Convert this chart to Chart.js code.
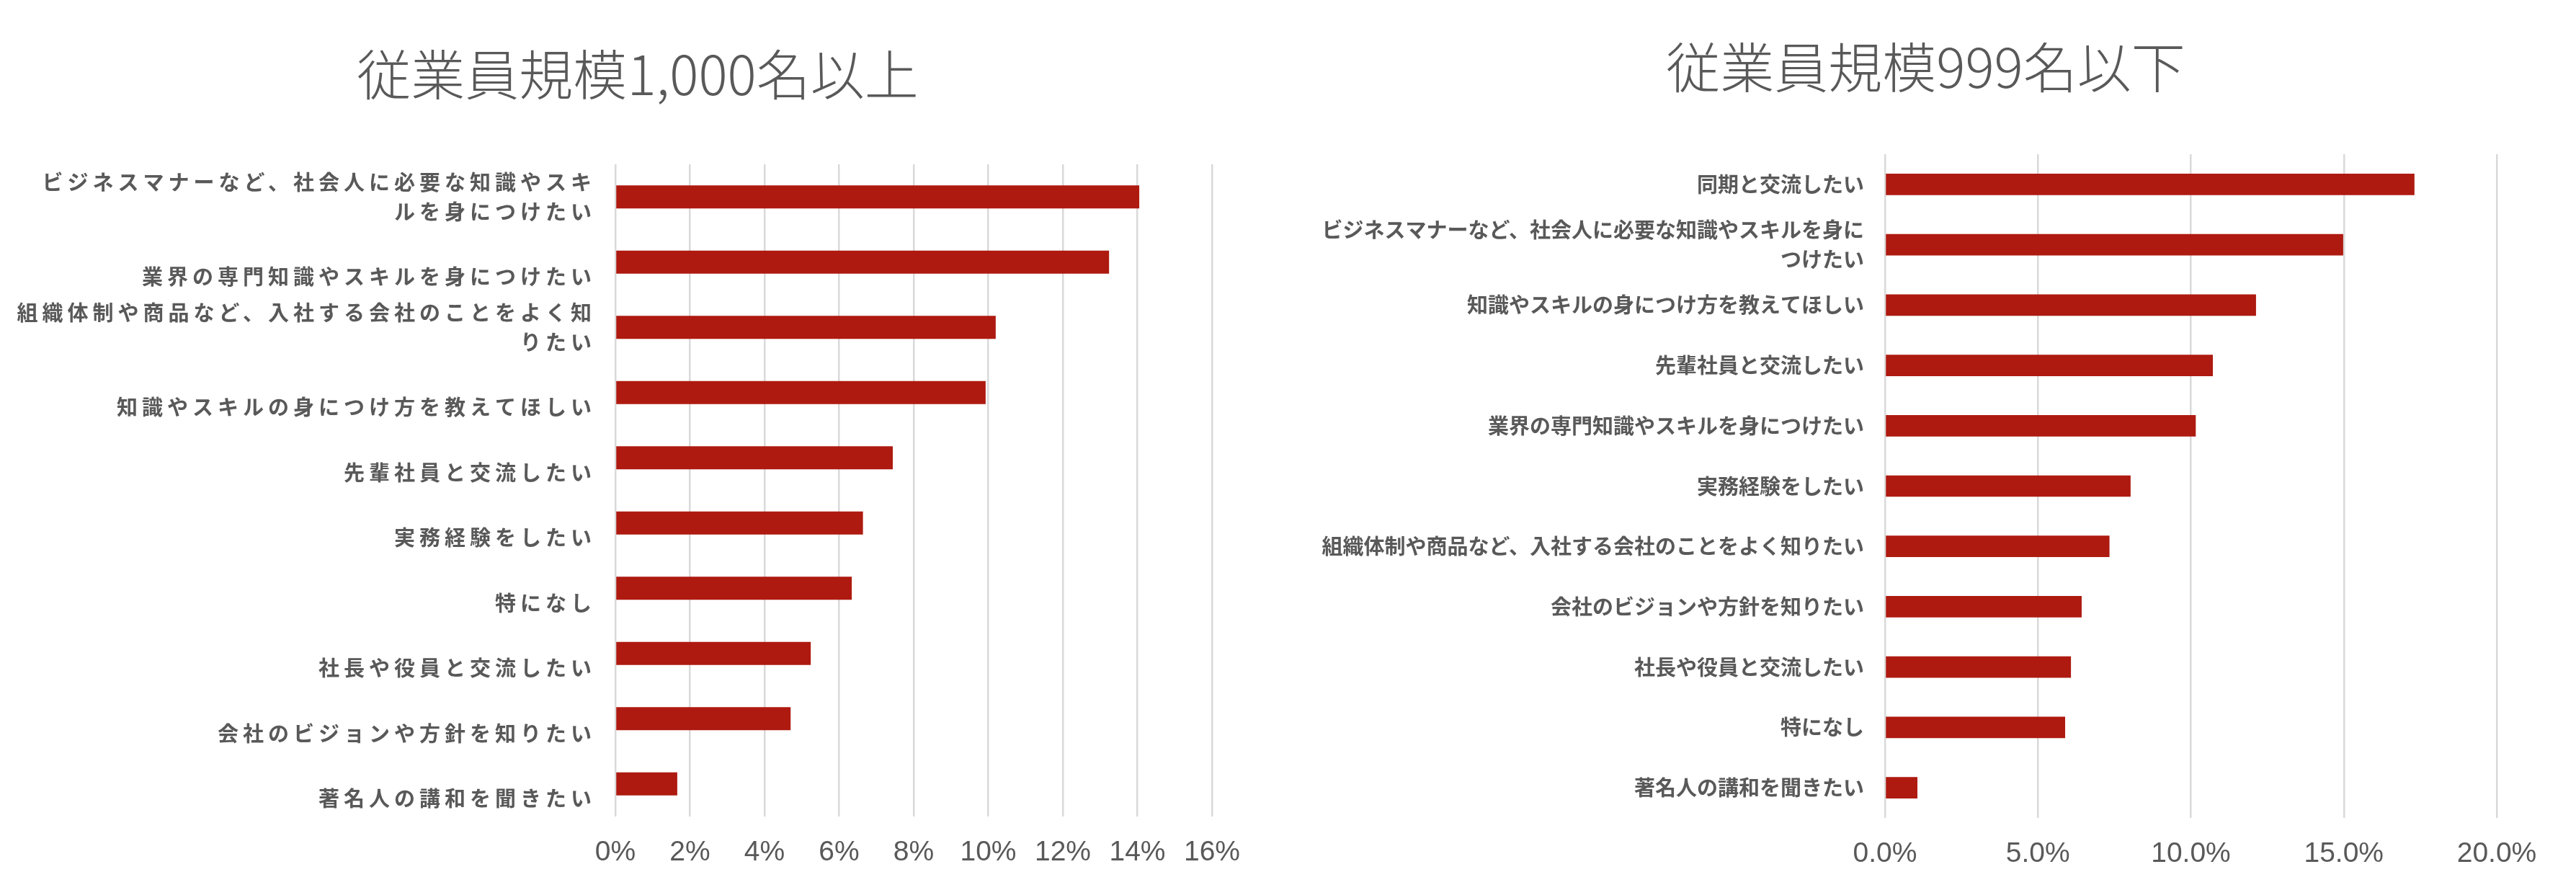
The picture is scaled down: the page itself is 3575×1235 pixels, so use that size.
<!DOCTYPE html>
<html lang="ja">
<head>
<meta charset="UTF-8">
<title>従業員規模別</title>
<script src="https://cdn.jsdelivr.net/npm/chart.js@4.4.0/dist/chart.umd.min.js"></script>
<style>
    html, body { margin: 0; padding: 0; background: #fff; }
    #wrap { position: relative; width: 3575px; height: 1235px; }
    #left { position: absolute; left: 0; top: 0; }
    #right { position: absolute; left: 1770px; top: 0; }
</style>
</head>
<body>
<div id="wrap">
    <canvas id="left" width="1770" height="1235"></canvas>
    <canvas id="right" width="1805" height="1235"></canvas>
</div>
<script>
// 従業員規模1,000名以上
const largeLabels = [
    ['ビジネスマナーなど、社会人に必要な知識やスキ', 'ルを身につけたい'],
    '業界の専門知識やスキルを身につけたい',
    ['組織体制や商品など、入社する会社のことをよく知', 'りたい'],
    '知識やスキルの身につけ方を教えてほしい',
    '先輩社員と交流したい',
    '実務経験をしたい',
    '特になし',
    '社長や役員と交流したい',
    '会社のビジョンや方針を知りたい',
    '著名人の講和を聞きたい'
];
const largeValues = [14.05, 13.24, 10.2, 9.93, 7.44, 6.64, 6.34, 5.24, 4.7, 1.66];
const largeTicks = [0, 2, 4, 6, 8, 10, 12, 14, 16];

// 従業員規模999名以下
const smallLabels = [
    '同期と交流したい',
    ['ビジネスマナーなど、社会人に必要な知識やスキルを身に', 'つけたい'],
    '知識やスキルの身につけ方を教えてほしい',
    '先輩社員と交流したい',
    '業界の専門知識やスキルを身につけたい',
    '実務経験をしたい',
    '組織体制や商品など、入社する会社のことをよく知りたい',
    '会社のビジョンや方針を知りたい',
    '社長や役員と交流したい',
    '特になし',
    '著名人の講和を聞きたい'
];
const smallValues = [17.31, 14.98, 12.13, 10.72, 10.16, 8.03, 7.34, 6.43, 6.08, 5.89, 1.06];
const smallTicks = [0, 5, 10, 15, 20];

const barColor = '#ae1a10';
const textColor = '#595959';
const gridColor = '#d9d9d9';
const jpFont = "'Noto Sans CJK JP', 'Noto Sans', sans-serif";
const numFont = "'Liberation Sans', Arial, sans-serif";

// left chart labels are letter-spaced
const spacingPlugin = {
    id: 'labelSpacing',
    afterDatasetsDraw(chart) { chart.ctx.letterSpacing = '6px'; },
    afterDraw(chart) { chart.ctx.letterSpacing = '0px'; }
};

// center the title over the whole canvas, not over the padded area
const titleCenter = {
    id: 'titleCenter',
    afterLayout(chart) {
        const t = chart.titleBlock;
        if (t) { t.left = 0; t.right = chart.width; t.width = chart.width; }
    }
};

function makeChart(id, cfg) {
    return new Chart(document.getElementById(id), {
        type: 'bar',
        data: {
            labels: cfg.labels,
            datasets: [{
                data: cfg.values,
                backgroundColor: barColor,
                barPercentage: 0.355,
                categoryPercentage: 1
            }]
        },
        plugins: [titleCenter].concat(cfg.plugins || []),
        options: {
            indexAxis: 'y',
            responsive: false,
            animation: false,
            layout: { padding: { left: 0, right: cfg.right, top: 0, bottom: 0 } },
            plugins: {
                legend: { display: false },
                tooltip: { enabled: false },
                title: {
                    display: true,
                    text: cfg.title,
                    color: textColor,
                    font: { family: jpFont, size: 75, weight: 300, lineHeight: 1.2 },
                    padding: cfg.titlePad
                }
            },
            scales: {
                x: {
                    min: 0,
                    max: cfg.ticks[cfg.ticks.length - 1],
                    afterBuildTicks: function (scale) {
                        scale.ticks = cfg.ticks.map(v => ({ value: v }));
                    },
                    afterFit: function (scale) { scale.height = cfg.xHeight; },
                    grid: { color: gridColor, lineWidth: 2.5, drawTicks: false },
                    border: { display: false },
                    ticks: {
                        padding: 27,
                        color: textColor,
                        font: { family: numFont, size: 39 },
                        callback: cfg.fmt
                    }
                },
                y: {
                    afterFit: function (scale) { scale.width = cfg.yWidth; },
                    grid: { display: false, drawTicks: false },
                    border: { display: false },
                    ticks: {
                        z: cfg.tickZ || 0,
                        padding: cfg.yPad,
                        color: textColor,
                        font: { family: jpFont, size: 29, weight: 'bold', lineHeight: 1.4 },
                        autoSkip: false,
                        callback: cfg.labelFmt
                    }
                }
            }
        }
    });
}

makeChart('left', {
    title: '従業員規模1,000名以上',
    labels: largeLabels,
    values: largeValues,
    ticks: largeTicks,
    titlePad: { top: 58, bottom: 80 },
    right: 88,
    xHeight: 102,
    yWidth: 854,
    yPad: 27,
    tickZ: 1,
    plugins: [spacingPlugin],
    fmt: v => v + '%',
    labelFmt: function (v, i) {
        const l = largeLabels[i];
        return Array.isArray(l) ? l : ['', l];
    }
});

makeChart('right', {
    title: '従業員規模999名以下',
    labels: smallLabels,
    values: smallValues,
    ticks: smallTicks,
    titlePad: { top: 48, bottom: 76 },
    right: 110,
    xHeight: 100,
    yWidth: 846,
    yPad: 29,
    fmt: v => v.toFixed(1) + '%',
    labelFmt: function (v, i) { return smallLabels[i]; }
});
</script>
</body>
</html>
